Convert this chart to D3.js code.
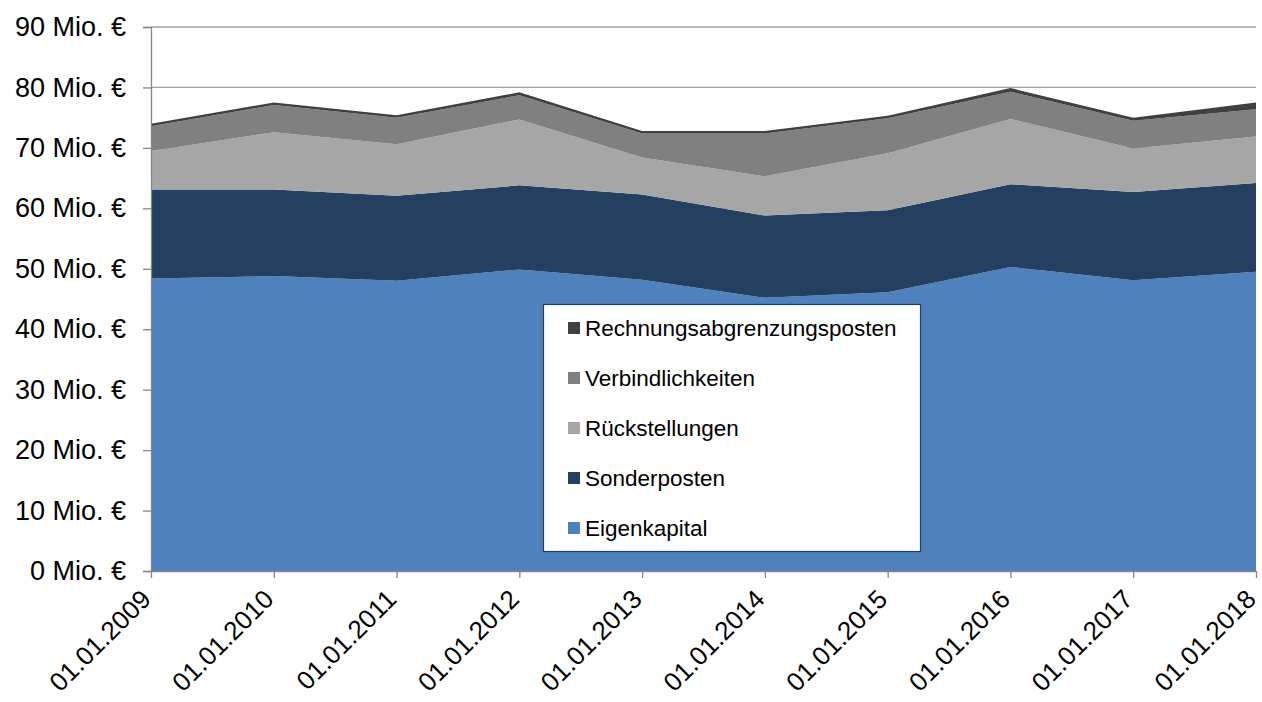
<!DOCTYPE html>
<html><head><meta charset="utf-8">
<script src="https://cdn.jsdelivr.net/npm/d3@7"></script>
<style>body{margin:0;background:#fff;} svg{display:block;font-family:Arial,"Liberation Sans",sans-serif;}</style>
</head><body>
<svg id="c" width="1262" height="702"></svg>
<script>
const dates = ["01.01.2009","01.01.2010","01.01.2011","01.01.2012","01.01.2013","01.01.2014","01.01.2015","01.01.2016","01.01.2017","01.01.2018"];
const seriesNames = ["Eigenkapital","Sonderposten","Rückstellungen","Verbindlichkeiten","Rechnungsabgrenzungsposten"];
const eigenkapital      = [48.4, 48.8, 48.0, 49.9, 48.2, 45.2, 46.1, 50.3, 48.1, 49.5];
const sonderposten      = [14.7, 14.3, 14.1, 13.9, 14.1, 13.6, 13.6, 13.7, 14.6, 14.7];
const rueckstellungen   = [6.4, 9.5, 8.5, 10.9, 6.1, 6.5, 9.4, 10.8, 7.2, 7.7];
const verbindlichkeiten = [4.1, 4.5, 4.4, 4.0, 4.0, 7.1, 5.8, 4.5, 4.6, 4.5];
const rap               = [0.4, 0.4, 0.4, 0.5, 0.4, 0.4, 0.4, 0.6, 0.5, 1.1];
const yTicks = [0,10,20,30,40,50,60,70,80,90];
const colors = ["#4f81bd","#243f60","#a6a6a6","#808080","#404040"];

const seriesData = [eigenkapital, sonderposten, rueckstellungen, verbindlichkeiten, rap];
const table = dates.map((d,i)=>{ const o={date:d}; seriesNames.forEach((n,k)=>o[n]=seriesData[k][i]); return o; });

const svg = d3.select("#c");
const m = {l:151, r:6, t:27, b:131};
const W = 1262, H = 702;
const x = d3.scalePoint().domain(dates).range([m.l, W-m.r]);
const y = d3.scaleLinear().domain([0,90]).range([H-m.b, m.t]);

// gridlines
svg.append("g").selectAll("line").data(yTicks.filter(t=>t>0)).join("line")
  .attr("x1", m.l).attr("x2", W-m.r).attr("y1", d=>y(d)).attr("y2", d=>y(d))
  .attr("stroke","#a0a0a0").attr("stroke-width",1.3);

const stack = d3.stack().keys(seriesNames);
const layers = stack(table);
const area = d3.area().x(d=>x(d.data.date)).y0(d=>y(d[0])).y1(d=>y(d[1]));
svg.append("g").selectAll("path").data(layers).join("path")
  .attr("d", area).attr("fill",(d,i)=>colors[i]);

// y axis
const yAxis = d3.axisLeft(y).tickValues(yTicks).tickSize(8).tickPadding(17).tickFormat(d=>d+" Mio. €");
const ya = svg.append("g").attr("transform",`translate(${m.l},0)`).call(yAxis);
ya.select(".domain").attr("stroke","#868686").attr("stroke-width",1.3);
ya.selectAll(".tick line").attr("stroke","#868686").attr("stroke-width",1.3);
ya.selectAll("text").attr("font-size","27px").attr("fill","#000").attr("font-family","Arial, 'Liberation Sans', sans-serif");

// x axis
const xAxis = d3.axisBottom(x).tickSize(7).tickSizeOuter(0);
const xa = svg.append("g").attr("transform",`translate(0,${H-m.b})`).call(xAxis);
xa.select(".domain").attr("stroke","#868686").attr("stroke-width",1.3);
xa.selectAll(".tick line").attr("stroke","#868686").attr("stroke-width",1.3);
xa.selectAll("text").attr("font-size","26px").attr("fill","#000")
  .attr("font-family","Arial, 'Liberation Sans', sans-serif")
  .attr("text-anchor","end").attr("dy",null).attr("y",null)
  .attr("transform","translate(-4,25) rotate(-45)")
  .attr("dominant-baseline","middle");

// legend
const lg = svg.append("g");
lg.append("rect").attr("x",543.5).attr("y",304.5).attr("width",377).attr("height",247)
  .attr("fill","#fff").attr("stroke","#243f60").attr("stroke-width",1.2);
const order = seriesNames.slice().reverse();
const items = lg.selectAll("g.it").data(order).join("g").attr("class","it")
  .attr("transform",(d,i)=>`translate(568,${328+i*50})`);
items.append("rect").attr("x",0).attr("y",-6).attr("width",12).attr("height",12)
  .attr("fill",d=>colors[seriesNames.indexOf(d)]);
items.append("text").attr("x",17).attr("y",0).attr("dy","0.36em")
  .attr("font-size","22.5px").attr("fill","#000").text(d=>d);
</script>
</body></html>
